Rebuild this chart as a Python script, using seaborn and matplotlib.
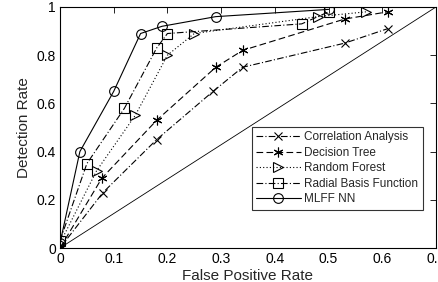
import matplotlib
matplotlib.use("Agg")
import matplotlib.pyplot as plt
import seaborn as sns
import pandas as pd

sns.set_style("white")
plt.rcParams['font.family'] = ['Liberation Sans', 'DejaVu Sans']

ca_x = [0, 0.08, 0.18, 0.285, 0.34, 0.53, 0.61]
ca_y = [0, 0.23, 0.45, 0.65, 0.75, 0.85, 0.91]
dt_x = [0, 0.078, 0.18, 0.29, 0.34, 0.53, 0.61]
dt_y = [0, 0.29, 0.53, 0.75, 0.82, 0.95, 0.98]
rf_x = [0, 0.068, 0.14, 0.20, 0.25, 0.48, 0.57]
rf_y = [0.02, 0.32, 0.55, 0.80, 0.89, 0.96, 0.98]
rbf_x = [0, 0.05, 0.12, 0.18, 0.20, 0.45, 0.50]
rbf_y = [0.03, 0.35, 0.58, 0.83, 0.89, 0.93, 0.98]
nn_x = [0, 0.037, 0.10, 0.15, 0.19, 0.29, 0.50]
nn_y = [0.02, 0.40, 0.65, 0.89, 0.92, 0.96, 0.99]
diag_x = [0, 0.7]
diag_y = [0, 1]

names = ["Correlation Analysis", "Decision Tree", "Random Forest",
         "Radial Basis Function", "MLFF NN"]
series = [(ca_x, ca_y), (dt_x, dt_y), (rf_x, rf_y), (rbf_x, rbf_y), (nn_x, nn_y)]
markers = ["x", (6, 2, 0), ">", "s", "o"]
styles = [(0, (6, 2, 1, 2)), (0, (6, 3)), (0, (1, 2)), (0, (6, 2, 1, 2)), "-"]

fig = plt.figure(figsize=(4.39, 2.82), dpi=100)
ax = fig.add_axes([60/439, 34/282, 376/439, 241/282])

for name, (xs, ys), m, ls in zip(names, series, markers, styles):
    df = pd.DataFrame({"x": xs, "y": ys})
    sns.lineplot(data=df, x="x", y="y", ax=ax, color="black", linewidth=0.8,
                 linestyle=ls, marker=m, markersize=7 if m != "x" else 6,
                 markerfacecolor="none",
                 markeredgecolor="black", markeredgewidth=0.8, label=name,
                 sort=False, estimator=None)

ax.plot(diag_x, diag_y, color="black", linewidth=0.6)

ax.set_xlim(0, 0.7)
ax.set_ylim(0, 1)
ax.set_xticks([0, 0.1, 0.2, 0.3, 0.4, 0.5, 0.6, 0.7])
ax.set_xticklabels(["0", "0.1", "0.2", "0.3", "0.4", "0.5", "0.6", "0.7"])
ax.set_yticks([0, 0.2, 0.4, 0.6, 0.8, 1])
ax.set_yticklabels(["0", "0.2", "0.4", "0.6", "0.8", "1"])
ax.tick_params(direction="in", top=True, right=True, length=4, width=0.6,
               labelsize=10, colors="black", pad=3)
for s in ax.spines.values():
    s.set_color("black")
    s.set_linewidth(0.8)
ax.set_xlabel("False Positive Rate", fontsize=11, labelpad=2)
ax.set_ylabel("Detection Rate", fontsize=11, labelpad=4)

leg = ax.legend(loc="lower right", bbox_to_anchor=(0.98, 0.135), fontsize=8.5,
                frameon=True, fancybox=False, edgecolor="black", handlelength=3.8,
                borderpad=0.35, labelspacing=0.3, handletextpad=0.3)
leg.get_frame().set_linewidth(0.8)

fig.savefig("out.png", dpi=100)
